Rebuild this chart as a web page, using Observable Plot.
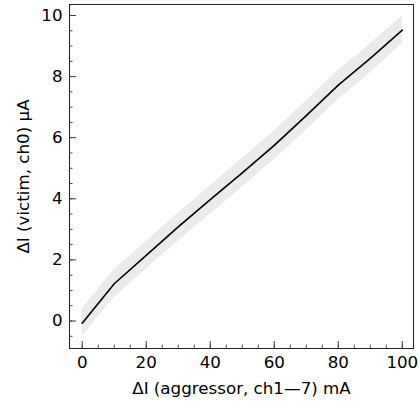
<!DOCTYPE html>
<html>
<head>
<meta charset="utf-8">
<script src="https://cdn.jsdelivr.net/npm/d3@7"></script>
<script src="https://cdn.jsdelivr.net/npm/@observablehq/plot@0.6"></script>
<style>
  html, body { margin: 0; padding: 0; background: white; }
</style>
</head>
<body>
<div id="chart"></div>
<script>
const aggressor = [0, 10, 20, 30, 40, 50, 60, 70, 80, 90, 100];
const victim    = [-0.07, 1.22, 2.15, 3.08, 3.97, 4.85, 5.75, 6.72, 7.72, 8.60, 9.52];
const victimLo  = [-0.50, 0.77, 1.70, 2.62, 3.50, 4.38, 5.28, 6.25, 7.25, 8.13, 9.08];
const victimHi  = [0.40, 1.68, 2.60, 3.53, 4.43, 5.32, 6.22, 7.20, 8.20, 9.07, 9.98];

const xMajor = [0, 20, 40, 60, 80, 100];
const xMinor = [0, 5, 10, 15, 20, 25, 30, 35, 40, 45, 50, 55, 60, 65, 70, 75, 80, 85, 90, 95, 100];
const yMajor = [0, 2, 4, 6, 8, 10];
const yMinor = [-0.5, 0, 0.5, 1, 1.5, 2, 2.5, 3, 3.5, 4, 4.5, 5, 5.5, 6, 6.5, 7, 7.5, 8, 8.5, 9, 9.5, 10];

const data = aggressor.map((x, i) => ({x, y: victim[i], lo: victimLo[i], hi: victimHi[i]}));

const blank = () => "";

const chart = Plot.plot({
  width: 419,
  height: 405,
  marginLeft: 69,
  marginRight: 6,
  marginTop: 4,
  marginBottom: 57,
  style: {fontFamily: "DejaVu Sans", fontSize: "16.7px", color: "black", background: "white"},
  x: {domain: [-3.97, 103.5]},
  y: {domain: [-0.9, 10.36]},
  marks: [
    Plot.areaY(data, {x: "x", y1: "lo", y2: "hi", fill: "#ebebeb"}),
    Plot.line(data, {x: "x", y: "y", stroke: "black", strokeWidth: 1.6}),
    Plot.frame({stroke: "#222"}),
    Plot.axisX({ticks: xMinor, tickSize: -3.5, tickFormat: blank, label: null, stroke: "#444"}),
    Plot.axisX({ticks: xMajor, tickSize: -7, tickFormat: blank, label: null, stroke: "#444"}),
    Plot.axisX({ticks: xMajor, tickSize: 0, tickPadding: 8, tickFormat: d => String(d),
      label: "ΔI (aggressor, ch1—7) mA", labelAnchor: "center", labelArrow: "none", labelOffset: 45}),
    Plot.axisY({ticks: yMinor, tickSize: -3.5, tickFormat: blank, label: null, stroke: "#444"}),
    Plot.axisY({ticks: yMajor, tickSize: -7, tickFormat: blank, label: null, stroke: "#444"}),
    Plot.axisY({ticks: yMajor, tickSize: 0, tickPadding: 7, tickFormat: d => String(d),
      label: "ΔI (victim, ch0) μA", labelAnchor: "center", labelArrow: "none", labelOffset: 52})
  ]
});
document.getElementById("chart").appendChild(chart);
</script>
</body>
</html>
